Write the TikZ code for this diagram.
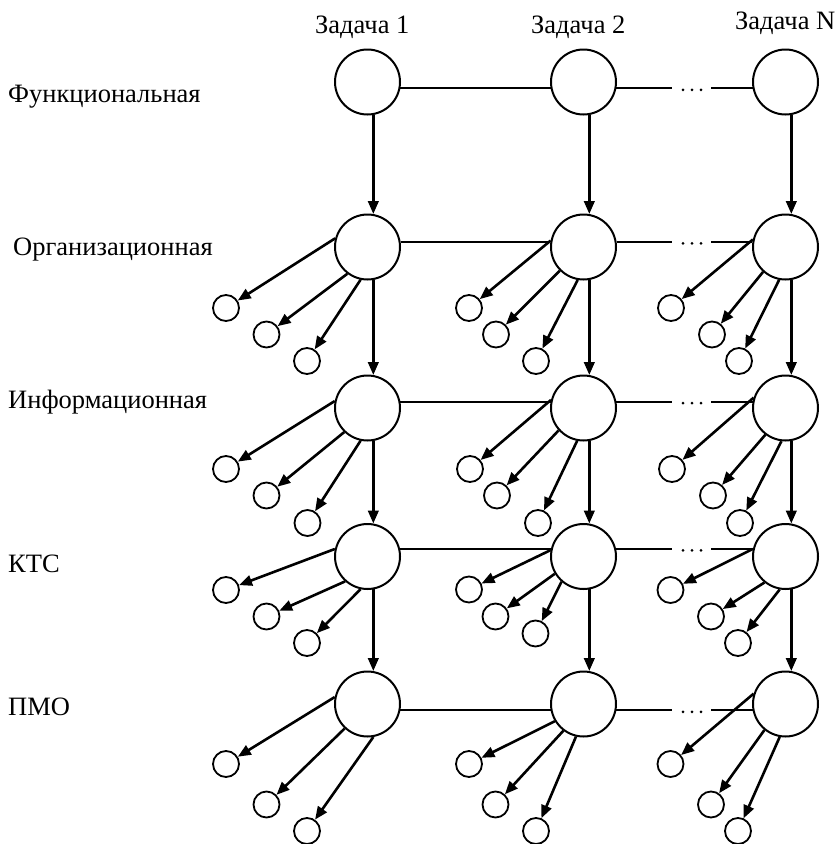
\documentclass[tikz,border=0pt]{standalone}
\usepackage{fontspec}
\setmainfont{Liberation Serif}
\usetikzlibrary{arrows.meta}
\begin{document}
\begin{tikzpicture}[x=1pt,y=-1pt,
  big/.style={circle,draw,line width=2pt,minimum size=65pt,inner sep=0pt},
  small/.style={circle,draw,line width=1.8pt,minimum size=26pt,inner sep=0pt},
  arr/.style={line width=2.6pt,-{Triangle[length=13pt,width=10.5pt]}},
  link/.style={line width=2pt},
  lbl/.style={anchor=base west,inner sep=0pt,font=\fontsize{26.5}{30}\selectfont},
  gapdot/.style={circle,fill,inner sep=0pt,minimum size=3pt}
]
\useasboundingbox (0,0) rectangle (837,844);

% headers
\node[lbl] (h1) at (315,33) {Задача 1};
\node[lbl] (h2) at (531,33) {Задача 2};
\node[lbl] (h3) at (735,29) {Задача N};

% row labels
\node[lbl] (l1) at (8,102) {Функциональная};
\node[lbl] (l2) at (13,255) {Организационная};
\node[lbl] (l3) at (8,408) {Информационная};
\node[lbl] (l4) at (8,572) {КТС};
\node[lbl] (l5) at (8,715) {ПМО};

% big circles
\foreach \r/\y in {1/82,2/247,3/408,4/556.5,5/704}
  \foreach \c/\x in {1/367.5,2/583.5,3/785.5}
    \node[big] (B\r\c) at (\x,\y) {};

% small circles
\foreach \r/\c/\xa/\xb/\xc/\ya/\yb/\yc in {
  2/1/226/266.5/307/308/334.5/361,
  2/2/469/496/536/308/334.5/361,
  2/3/671/712/739/308/334.5/361,
  3/1/226/266.5/307.5/469/495.5/523,
  3/2/470/497/538/469/495.5/523,
  3/3/672/713/740/469/495.5/523,
  4/1/226/266.5/307/590/616.5/643,
  4/2/469/495.5/535.5/589.5/616.5/633.5,
  4/3/670.5/711/738/590/616.5/643,
  5/1/226/266.5/307/764/804.5/831,
  5/2/469/495.5/536/764/804.5/831,
  5/3/670.5/711/738/764/804.5/831}
{
  \node[small] (S\r\c1) at (\xa,\ya) {};
  \node[small] (S\r\c2) at (\xb,\yb) {};
  \node[small] (S\r\c3) at (\xc,\yc) {};
}

% fan arrows
\foreach \r/\c/\pa/\pb/\pc in {
  2/1/165/233/258, 2/2/169/225/260, 2/3/167/228/259,
  3/1/168/226/258, 3/2/166/222/259, 3/3/162/233/263,
  4/1/167/228/258, 4/2/169/211/229, 4/3/167/231/260,
  5/1/168/227/280, 5/2/211/233/257, 5/3/162/231/260}
{
  \draw[arr] (B\r\c.\pa) -- (S\r\c1);
  \draw[arr] (B\r\c.\pb) -- (S\r\c2);
  \draw[arr] (B\r\c.\pc) -- (S\r\c3);
}

% vertical arrows
\foreach \c in {1,2,3}
  \foreach \ra/\rb in {1/2,2/3,3/4,4/5}
    \draw[arr] (B\ra\c.280) -- (B\rb\c.80);

% horizontal links
\coordinate (gxl) at (672,0);
\coordinate (gxr) at (711,0);
\foreach \r/\ang in {1/-11,2/9,3/11,4/13,5/-11}
{
  \pgfmathtruncatemacro{\bang}{180-\ang}
  \draw[link] (B\r1.\ang) -- (B\r2.\bang);
  \draw[link] (B\r2.\ang) -- (B\r2.\ang -| gxl);
  \draw[link] (B\r3.\bang -| gxr) -- (B\r3.\bang);
  \coordinate (gL\r) at (B\r2.\ang -| gxl);
  \node[gapdot] at ([xshift=11pt,yshift=-1.5pt]gL\r) {};
  \node[gapdot] at ([xshift=20pt,yshift=-1.5pt]gL\r) {};
  \node[gapdot] at ([xshift=29pt,yshift=-1.5pt]gL\r) {};
}
\end{tikzpicture}
\end{document}
